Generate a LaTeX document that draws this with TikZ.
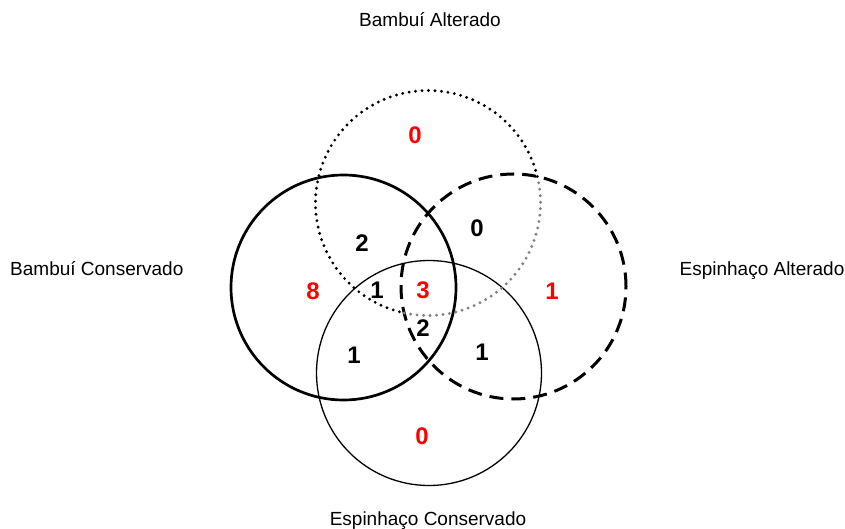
\documentclass[tikz,border=0pt]{standalone}
\usepackage{fontspec}
\setmainfont{Liberation Sans}
\begin{document}
\begin{tikzpicture}[x=1pt,y=-1pt,
  setcircle/.style={circle, minimum size=225pt, inner sep=0pt, outer sep=0pt},
  lbl/.style={font=\fontsize{19}{22}\selectfont, inner sep=0pt},
  num/.style={font=\fontsize{24}{28}\selectfont\bfseries, inner sep=0pt},
  rednum/.style={num, text=red},
  dotline/.style={line width=3.2pt, line cap=round, dash pattern=on 0pt off 6.5pt}]
\useasboundingbox (0,0) rectangle (845,529);
% circles
\node[setcircle] (ba) at (428,203) {};
\node[setcircle, draw, line width=2.7pt] (bc) at (343.5,287.5) {};
\node[setcircle, draw, line width=3pt, dash pattern=on 14pt off 8pt] (ea) at (513.5,286.5) {};
\node[setcircle, draw, line width=1.3pt] (ec) at (429,373) {};
% dotted circle: black outside the dashed circle, grey inside it
\draw[dotline, black] ([shift={(13.6:112.5pt)}]ba.center) arc[start angle=13.6, end angle=257.8, radius=112.5pt];
\draw[dotline, black!50] ([shift={(-102.2:112.5pt)}]ba.center) arc[start angle=-102.2, end angle=13.6, radius=112.5pt];
% set labels
\node[lbl, anchor=base] (lba) at (430,27) {Bambuí Alterado};
\node[lbl, anchor=base west] (lbc) at (10,275) {Bambuí Conservado};
\node[lbl, anchor=base] (lea) at (762,275) {Espinhaço Alterado};
\node[lbl, anchor=base] (lec) at (428,525) {Espinhaço Conservado};
% counts
\node[rednum] (n1) at (415,135) {0};
\node[rednum] (n2) at (313,291) {8};
\node[rednum] (n3) at (552,291) {1};
\node[rednum] (n4) at (422,436) {0};
\node[rednum] (n5) at (423,290) {3};
\node[num] (n6) at (362,243) {2};
\node[num] (n7) at (477,228) {0};
\node[num] (n8) at (377,290) {1};
\node[num] (n9) at (423,328) {2};
\node[num] (n10) at (354,355) {1};
\node[num] (n11) at (482,352) {1};
\end{tikzpicture}
\end{document}
